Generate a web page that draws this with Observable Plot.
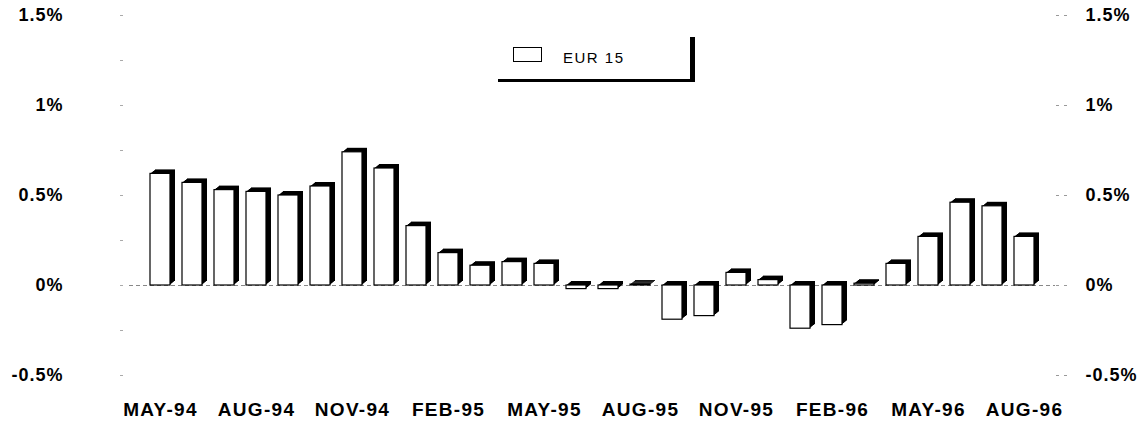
<!DOCTYPE html>
<html>
<head>
<meta charset="utf-8">
<script src="https://cdn.jsdelivr.net/npm/d3@7"></script>
<script src="https://cdn.jsdelivr.net/npm/@observablehq/plot@0.6"></script>
<style>
  body { margin: 0; background: #fff; }
  #wrap { position: relative; width: 1143px; height: 430px; background: #fff; }
  #wrap svg g[aria-label="y-axis tick label"] text { letter-spacing: 1px; }
  #wrap svg g[aria-label="x-axis tick label"] text { letter-spacing: 1.3px; }
  .legend { position: absolute; left: 498px; top: 37px; width: 197px; height: 45px;
            border-right: 5px solid #000; border-bottom: 3px solid #000; box-sizing: border-box;
            font-family: "Liberation Sans", Arial, sans-serif; }
  .legend .swatch { position: absolute; left: 15px; top: 10px; width: 27px; height: 13px;
                    border: 1px solid #000; background: #fff; }
  .legend .lab { position: absolute; left: 65px; top: 13px; font-size: 15px; line-height: 16px;
                 letter-spacing: 1.5px; color: #000; }
</style>
</head>
<body>
<div id="wrap"></div>
<script>
const months = ["MAY-94","JUN-94","JUL-94","AUG-94","SEP-94","OCT-94","NOV-94","DEC-94",
  "JAN-95","FEB-95","MAR-95","APR-95","MAY-95","JUN-95","JUL-95","AUG-95","SEP-95","OCT-95",
  "NOV-95","DEC-95","JAN-96","FEB-96","MAR-96","APR-96","MAY-96","JUN-96","JUL-96","AUG-96"];
const values = [0.62, 0.57, 0.53, 0.52, 0.50, 0.55, 0.74, 0.65, 0.33, 0.18, 0.11, 0.13, 0.12,
  -0.02, -0.02, 0.005, -0.19, -0.17, 0.07, 0.03, -0.24, -0.22, 0.01, 0.12, 0.27, 0.46, 0.44, 0.27];
const xTickLabels = ["MAY-94","AUG-94","NOV-94","FEB-95","MAY-95","AUG-95","NOV-95","FEB-96","MAY-96","AUG-96"];
const yTicks = [-0.5, 0, 0.5, 1, 1.5];
const yTickLabels = ["-0.5%", "0%", "0.5%", "1%", "1.5%"];
const yMinorTicks = [-0.5, -0.25, 0, 0.25, 0.5, 0.75, 1, 1.25, 1.5];
const seriesName = "EUR 15";

const data = months.map((m, i) => ({month: m, value: values[i]}));
const fmt = d => yTickLabels[yTicks.indexOf(d)];

const chart = Plot.plot({
  width: 1143, height: 430,
  marginLeft: 129, marginRight: 88, marginTop: 15, marginBottom: 55,
  x: {type: "band", domain: months, padding: 0.39, label: null},
  y: {domain: [-0.5, 1.5], label: null},
  style: {fontFamily: "'Liberation Sans', Arial, sans-serif", fontWeight: "bold", background: "#fff", color: "#000"},
  marks: [
    Plot.axisY(yMinorTicks, {anchor: "left", tickSize: 3, dx: -6, text: null, stroke: "#aaa"}),
    Plot.axisY(yTicks, {anchor: "left", tickSize: 0, tickPadding: 66, tickFormat: fmt, fontSize: 18, fontWeight: "bold", label: null}),
    Plot.axisY(yTicks, {anchor: "right", tickSize: 12, text: null, stroke: "#999", strokeDasharray: "3,5", label: null}),
    Plot.axisY(yTicks, {anchor: "right", tickSize: 0, tickPadding: 30, tickFormat: fmt, fontSize: 18, fontWeight: "bold", label: null}),
    Plot.axisX(xTickLabels, {anchor: "bottom", tickSize: 0, tickPadding: 27, fontSize: 19, fontWeight: "bold", label: null}),
    Plot.ruleY([0], {stroke: "#888", strokeDasharray: "4,3"}),
    ...d3.range(1, 6).map(k => Plot.barY(data, {x: "month", y: "value", fill: "#000", dx: k, dy: -0.8 * k})),
    Plot.barY(data, {x: "month", y: "value", fill: "#fff", stroke: "#000", strokeWidth: 1.2})
  ]
});

const wrap = document.getElementById("wrap");
wrap.appendChild(chart);
const legend = document.createElement("div");
legend.className = "legend";
legend.innerHTML = `<div class="swatch"></div><div class="lab"></div>`;
legend.querySelector(".lab").textContent = seriesName;
wrap.appendChild(legend);
</script>
</body>
</html>
